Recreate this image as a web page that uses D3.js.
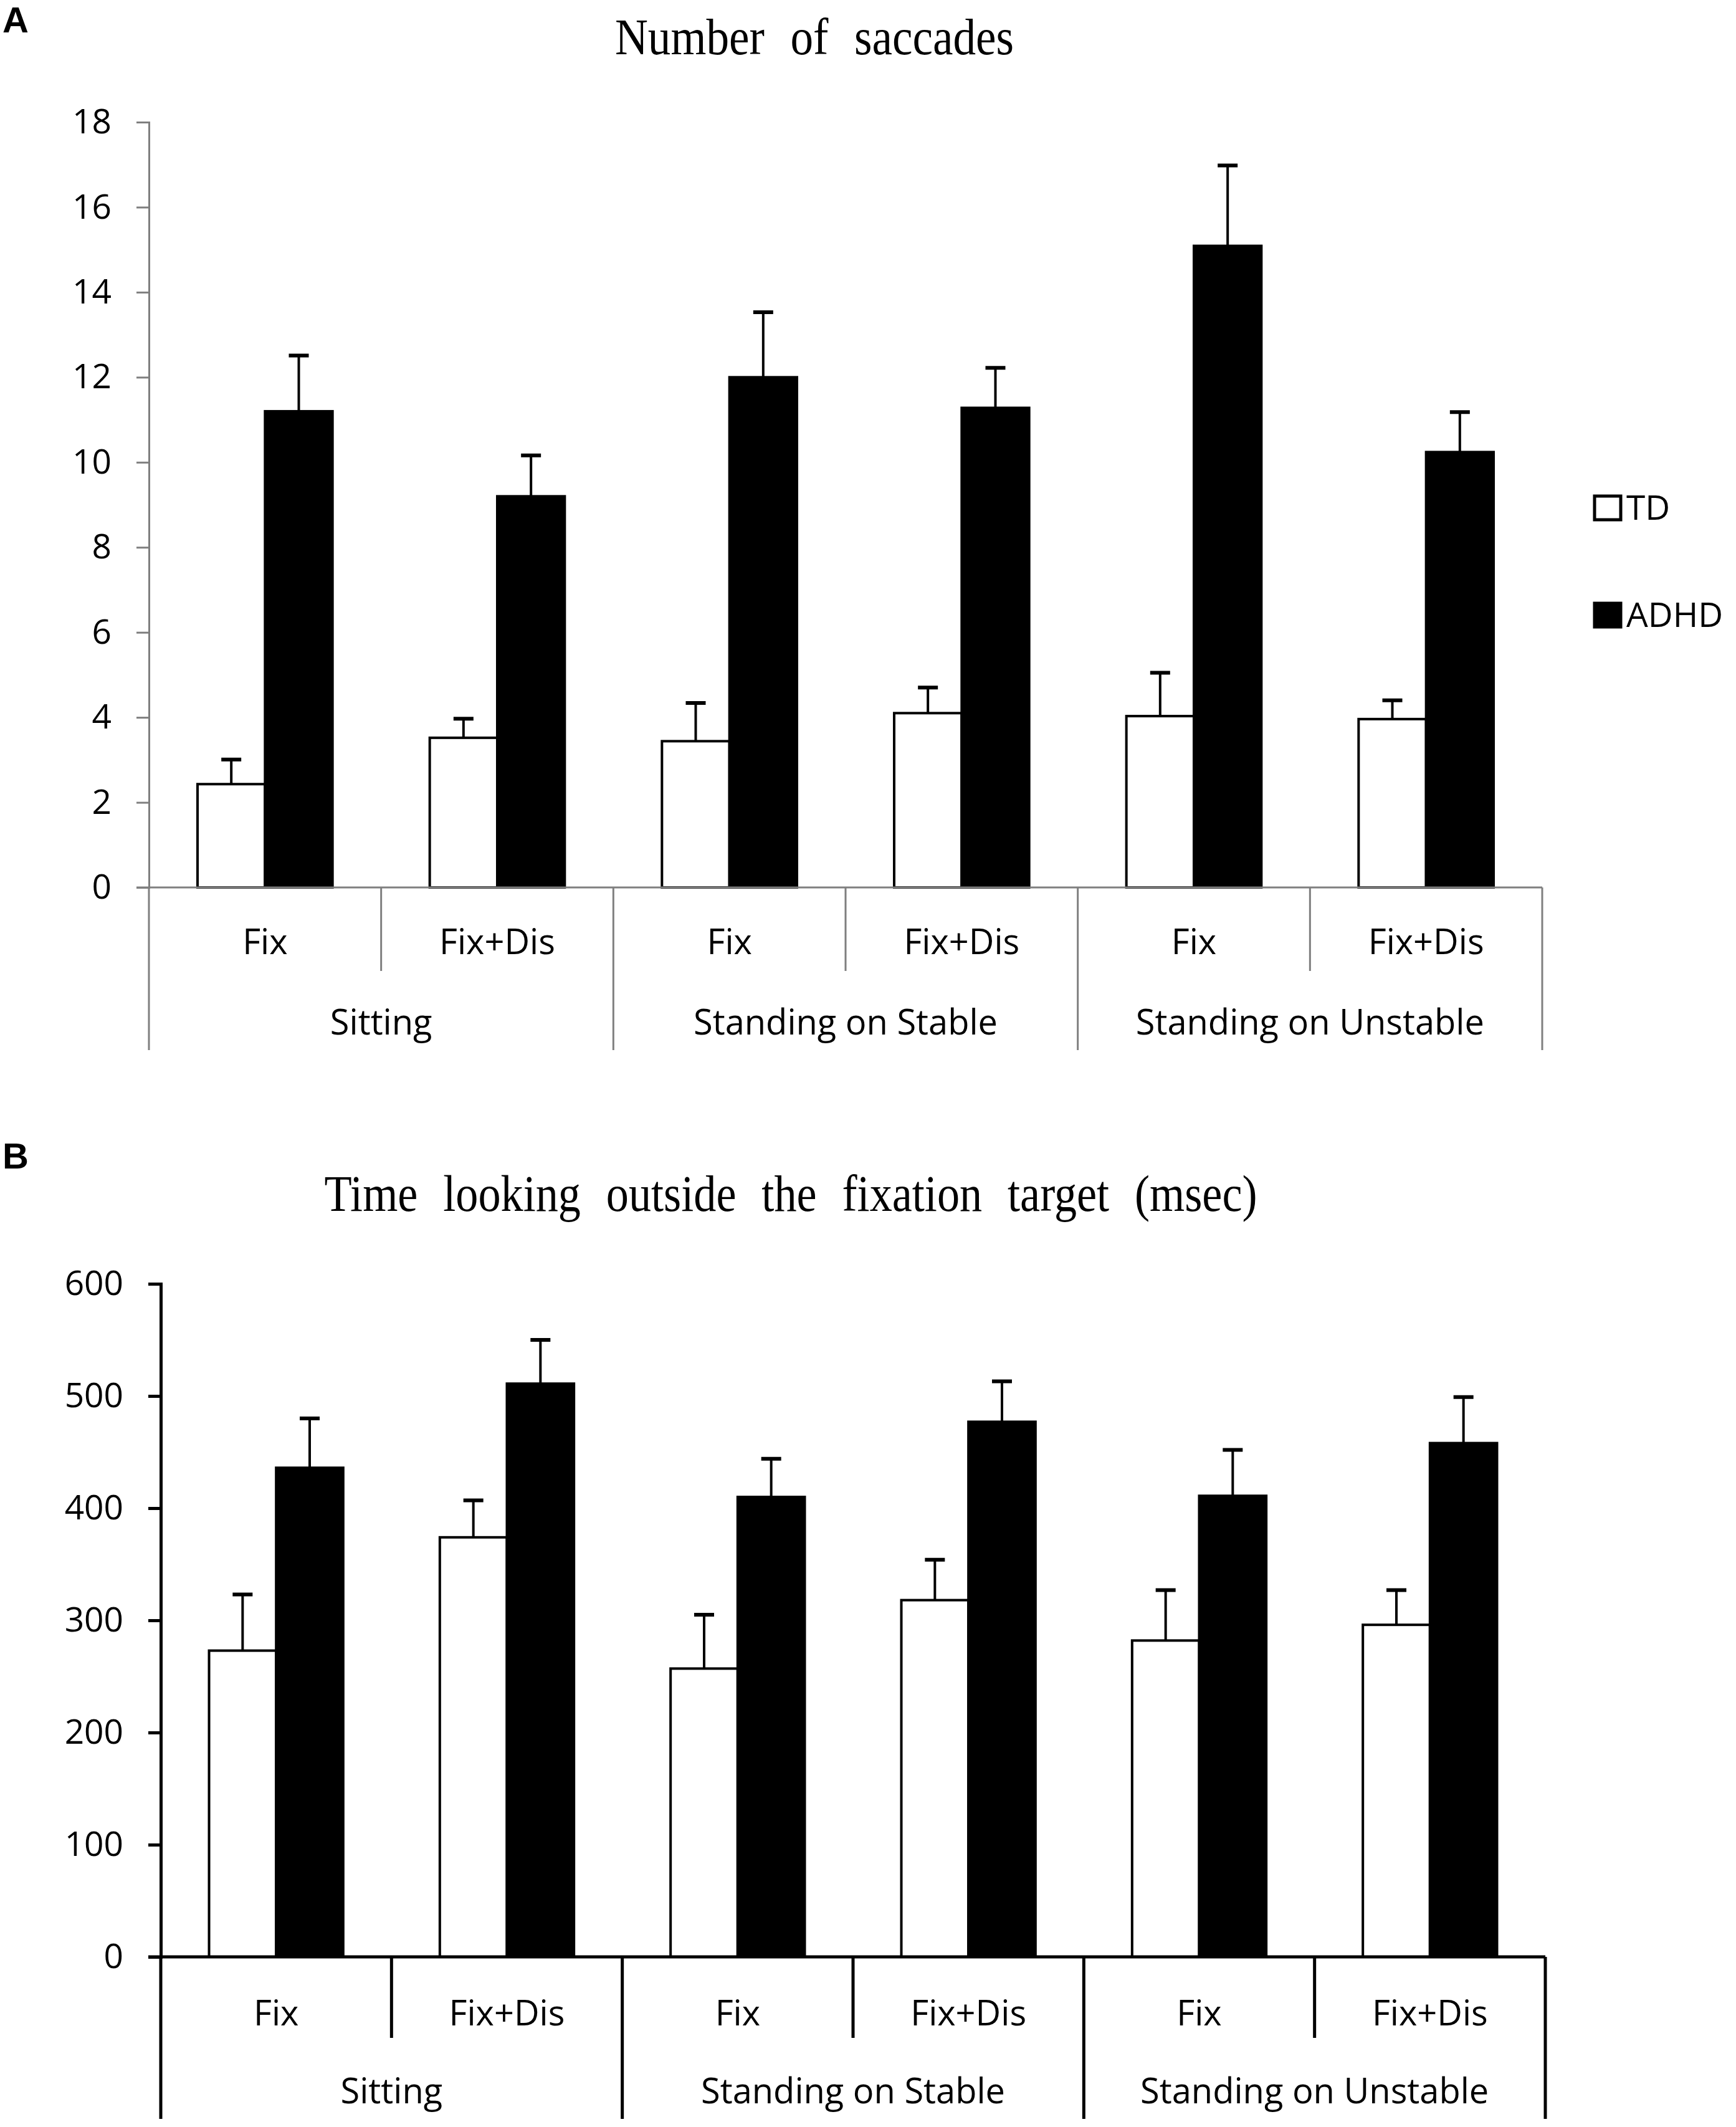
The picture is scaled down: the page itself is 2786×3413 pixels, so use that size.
<!DOCTYPE html>
<html>
<head>
<meta charset="utf-8">
<script src="https://cdn.jsdelivr.net/npm/d3@7"></script>
<style>
  body { margin: 0; background: white; }
  text { font-family: "Open Sans", sans-serif; fill: black; }
</style>
</head>
<body>
<div id="container"></div>
<script>
// conditions along the x axis (two per posture)
let conditions = ["Fix", "Fix+Dis", "Fix", "Fix+Dis", "Fix", "Fix+Dis"];
let postures = ["Sitting", "Standing on Stable", "Standing on Unstable"];
let groups = ["TD", "ADHD"];

// panel A: number of saccades (mean and error)
let saccTD = [2.43, 3.52, 3.44, 4.10, 4.03, 3.96];
let saccTDErr = [0.58, 0.45, 0.90, 0.60, 1.02, 0.44];
let saccADHD = [11.2, 9.2, 12.0, 11.28, 15.09, 10.24];
let saccADHDErr = [1.31, 0.96, 1.53, 0.94, 1.89, 0.94];
let saccTicks = [0, 2, 4, 6, 8, 10, 12, 14, 16, 18];

// panel B: time looking outside the fixation target (msec)
let timeTD = [273, 374, 257, 318, 282, 296];
let timeTDErr = [50, 33, 48, 36, 45, 31];
let timeADHD = [436, 511, 410, 477, 411, 458];
let timeADHDErr = [44, 39, 34, 36, 41, 41];
let timeTicks = [0, 100, 200, 300, 400, 500, 600];

let w = 2786;
let h = 3413;

let viz = d3.select("#container")
  .append("svg")
  .attr("width", w)
  .attr("height", h)
  .style("background-color", "white");

function drawPanel(p) {
  let g = viz.append("g");

  // panel letter
  g.append("text")
    .attr("x", 4)
    .attr("y", p.letterY)
    .style("font-family", "'Liberation Sans', Arial, sans-serif")
    .attr("font-weight", "bold")
    .attr("font-size", 58)
    .text(p.letter);

  // title: narrow glyphs, wide word gaps like the original
  g.append("text")
    .attr("x", p.titleX)
    .attr("y", p.titleY)
    .attr("text-anchor", "middle")
    .style("font-family", "'Liberation Serif', 'Times New Roman', serif")
    .attr("font-size", 82)
    .attr("word-spacing", 26)
    .attr("textLength", p.titleLen)
    .attr("lengthAdjust", "spacingAndGlyphs")
    .text(p.title);

  let yScale = d3.scaleLinear().domain([0, d3.max(p.ticks)]).range([p.y0, p.yTop]);
  let xScale = d3.scaleBand().domain(d3.range(conditions.length)).range([p.x0, p.x1]).padding(0);
  let subScale = d3.scaleBand().domain(groups).range([0, xScale.bandwidth()])
    .paddingInner(0).paddingOuter(0.72);

  // bars
  let rows = [];
  conditions.forEach(function (c, i) {
    rows.push({ i: i, group: "TD", v: p.td[i], e: p.tdErr[i] });
    rows.push({ i: i, group: "ADHD", v: p.adhd[i], e: p.adhdErr[i] });
  });

  let bars = g.selectAll(".bar").data(rows).enter();

  // error bars first so the bar covers the stem base
  bars.append("line")
    .attr("x1", function (d) { return xScale(d.i) + subScale(d.group) + subScale.bandwidth() / 2; })
    .attr("x2", function (d) { return xScale(d.i) + subScale(d.group) + subScale.bandwidth() / 2; })
    .attr("y1", function (d) { return yScale(d.v); })
    .attr("y2", function (d) { return yScale(d.v + d.e); })
    .attr("stroke", "black")
    .attr("stroke-width", 4);

  bars.append("line")
    .attr("x1", function (d) { return xScale(d.i) + subScale(d.group) + subScale.bandwidth() / 2 - 16; })
    .attr("x2", function (d) { return xScale(d.i) + subScale(d.group) + subScale.bandwidth() / 2 + 16; })
    .attr("y1", function (d) { return yScale(d.v + d.e); })
    .attr("y2", function (d) { return yScale(d.v + d.e); })
    .attr("stroke", "black")
    .attr("stroke-width", 6);

  bars.append("rect")
    .attr("x", function (d) { return xScale(d.i) + subScale(d.group); })
    .attr("y", function (d) { return yScale(d.v); })
    .attr("width", subScale.bandwidth())
    .attr("height", function (d) { return p.y0 - yScale(d.v); })
    .attr("fill", function (d) { return d.group == "TD" ? "white" : "black"; })
    .attr("stroke", "black")
    .attr("stroke-width", 4);

  // y axis
  let yAxis = d3.axisLeft(yScale).tickValues(p.ticks).tickSize(20).tickPadding(40);
  let yAxisGroup = g.append("g")
    .attr("transform", "translate(" + p.x0 + ",0)")
    .call(yAxis);
  yAxisGroup.selectAll("path, line").attr("stroke", p.axisColor).attr("stroke-width", p.axisWidth);
  yAxisGroup.selectAll("text")
    .attr("font-size", 55)
    .style("font-family", "'Open Sans', sans-serif")
    .attr("fill", "black");

  // x axis line
  g.append("line")
    .attr("x1", p.x0 - 20)
    .attr("x2", p.x1)
    .attr("y1", p.y0)
    .attr("y2", p.y0)
    .attr("stroke", p.axisColor)
    .attr("stroke-width", p.axisWidth);

  // dividers between conditions and postures
  let edges = d3.range(conditions.length + 1);
  g.selectAll(".divider").data(edges).enter()
    .append("line")
    .attr("x1", function (d) { return d < conditions.length ? xScale(d) : p.x1; })
    .attr("x2", function (d) { return d < conditions.length ? xScale(d) : p.x1; })
    .attr("y1", p.y0)
    .attr("y2", function (d) { return d % 2 == 0 ? p.outerBottom : p.innerBottom; })
    .attr("stroke", p.axisColor)
    .attr("stroke-width", p.axisWidth);

  // condition labels
  g.selectAll(".cond").data(conditions).enter()
    .append("text")
    .attr("x", function (d, i) { return xScale(i) + xScale.bandwidth() / 2; })
    .attr("y", p.condY)
    .attr("text-anchor", "middle")
    .attr("font-size", 56)
    .text(function (d) { return d; });

  // posture labels
  g.selectAll(".posture").data(postures).enter()
    .append("text")
    .attr("x", function (d, i) { return xScale(i * 2 + 1); })
    .attr("y", p.postureY)
    .attr("text-anchor", "middle")
    .attr("font-size", 56)
    .text(function (d) { return d; });
}

drawPanel({
  letter: "A", letterY: 52,
  title: "Number of saccades", titleX: 1307, titleY: 87, titleLen: 640,
  td: saccTD, tdErr: saccTDErr, adhd: saccADHD, adhdErr: saccADHDErr,
  ticks: saccTicks,
  x0: 239, x1: 2475, y0: 1424, yTop: 196,
  innerBottom: 1558, outerBottom: 1685,
  condY: 1531, postureY: 1660,
  axisColor: "#7f7f7f", axisWidth: 3
});

drawPanel({
  letter: "B", letterY: 1875,
  title: "Time looking outside the fixation target (msec)", titleX: 1269, titleY: 1943, titleLen: 1497,
  td: timeTD, tdErr: timeTDErr, adhd: timeADHD, adhdErr: timeADHDErr,
  ticks: timeTicks,
  x0: 258, x1: 2480, y0: 3140, yTop: 2060,
  innerBottom: 3270, outerBottom: 3400,
  condY: 3250, postureY: 3375,
  axisColor: "black", axisWidth: 5
});

// legend (panel A only)
let legend = viz.append("g");
legend.selectAll("rect").data(groups).enter()
  .append("rect")
  .attr("x", 2559)
  .attr("y", function (d, i) { return 796 + i * 172; })
  .attr("width", 42)
  .attr("height", 38)
  .attr("fill", function (d) { return d == "TD" ? "white" : "black"; })
  .attr("stroke", "black")
  .attr("stroke-width", 5);

legend.selectAll("text").data(groups).enter()
  .append("text")
  .attr("x", 2610)
  .attr("y", function (d, i) { return 834 + i * 172; })
  .attr("font-size", 55)
  .text(function (d) { return d; });
</script>
</body>
</html>
